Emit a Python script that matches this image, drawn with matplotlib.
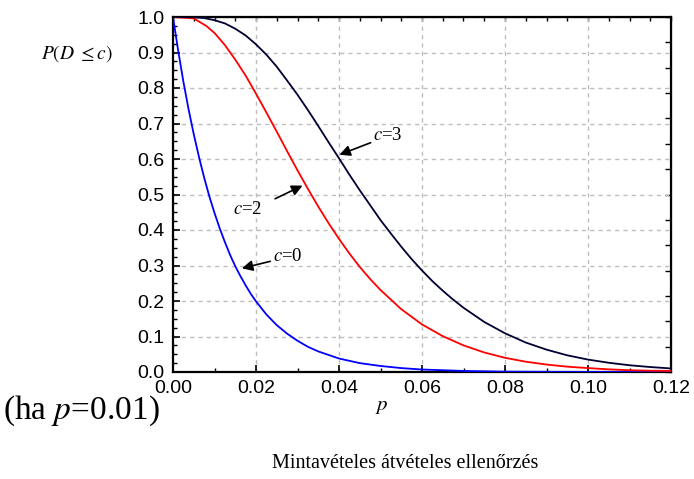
import matplotlib
matplotlib.use("Agg")
import matplotlib.pyplot as plt
from matplotlib.ticker import MultipleLocator, NullFormatter

plt.rcParams['mathtext.fontset'] = 'stix'
plt.rcParams['font.family'] = ['Liberation Sans', 'DejaVu Sans']

# values
p_c0 = [0, 0.00125, 0.0025, 0.00375, 0.005, 0.00625, 0.0075, 0.00875, 0.01, 0.01125,
        0.0125, 0.01375, 0.015, 0.01625, 0.0175, 0.01875, 0.02, 0.0225, 0.025, 0.0275,
        0.03, 0.0325, 0.035, 0.04, 0.045, 0.05, 0.055, 0.06, 0.065, 0.07, 0.08, 0.09,
        0.10, 0.12]
P_c0 = [1.0, 0.905, 0.818, 0.740, 0.670, 0.606, 0.548, 0.495, 0.448, 0.405,
        0.366, 0.330, 0.298, 0.270, 0.244, 0.220, 0.199, 0.162, 0.132, 0.108,
        0.088, 0.071, 0.058, 0.038, 0.025, 0.017, 0.011, 0.007, 0.005, 0.003, 0.001, 0.0005,
        0.0002, 0.0]

p_c2 = [0, 0.005, 0.008, 0.010, 0.0125, 0.015, 0.0175, 0.020, 0.0225, 0.025, 0.0275,
        0.030, 0.0325, 0.035, 0.0375, 0.040, 0.0425, 0.045, 0.0475, 0.050, 0.055, 0.060,
        0.065, 0.070, 0.075, 0.080, 0.085, 0.090, 0.095, 0.100, 0.105, 0.110, 0.115, 0.120]
P_c2 = [1.0, 0.996, 0.975, 0.955, 0.921, 0.880, 0.835, 0.784, 0.731, 0.677, 0.622,
        0.568, 0.516, 0.466, 0.419, 0.375, 0.334, 0.296, 0.262, 0.231, 0.177, 0.134,
        0.101, 0.075, 0.055, 0.040, 0.029, 0.021, 0.015, 0.011, 0.0075, 0.005, 0.0037, 0.003]

p_c3 = [0, 0.0025, 0.005, 0.0075, 0.010, 0.0125, 0.015, 0.0175, 0.020, 0.0225, 0.025,
        0.0275, 0.030, 0.0325, 0.035, 0.0375, 0.040, 0.0425, 0.045, 0.0475, 0.050,
        0.0525, 0.055, 0.0575, 0.060, 0.0625, 0.065, 0.0675, 0.070, 0.075, 0.080,
        0.085, 0.090, 0.095, 0.100, 0.105, 0.110, 0.115, 0.120]
P_c3 = [1.0, 1.0, 0.999, 0.997, 0.991, 0.982, 0.967, 0.948, 0.923, 0.894, 0.860,
        0.821, 0.781, 0.738, 0.693, 0.647, 0.602, 0.556, 0.512, 0.470, 0.428,
        0.390, 0.353, 0.318, 0.286, 0.256, 0.229, 0.204, 0.181, 0.141, 0.109,
        0.083, 0.063, 0.047, 0.035, 0.026, 0.019, 0.014, 0.010]

x_ticks = [0.00, 0.02, 0.04, 0.06, 0.08, 0.10, 0.12]
y_ticks = [0.0, 0.1, 0.2, 0.3, 0.4, 0.5, 0.6, 0.7, 0.8, 0.9, 1.0]

fig = plt.figure(figsize=(6.94, 4.79), dpi=100)
ax = fig.add_axes([173/694, 107/479, 498/694, 355/479])

ax.plot(p_c0, P_c0, color='#0000ff', lw=1.3, zorder=3)
ax.plot(p_c2, P_c2, color='#ff0000', lw=1.3, zorder=3)
ax.plot(p_c3, P_c3, color='#000033', lw=1.3, zorder=3)

ax.set_xlim(0, 0.12)
ax.set_ylim(0, 1.0)
ax.set_xticks(x_ticks)
ax.set_xticklabels([f"{v:.2f}" for v in x_ticks])
ax.set_yticks(y_ticks)
ax.set_yticklabels([f"{v:.1f}" for v in y_ticks])
ax.xaxis.set_minor_locator(MultipleLocator(0.01))
ax.yaxis.set_minor_locator(MultipleLocator(0.025))
ax.tick_params(which='major', direction='in', length=5, width=1.2, labelsize=14, pad=6)
ax.tick_params(which='minor', direction='in', length=3, width=1.0)
ax.grid(True, which='major', color='#bdbdbd', ls=(0, (3, 3)), lw=1.0)
for s in ax.spines.values():
    s.set_linewidth(1.6)

secx = ax.secondary_xaxis('top')
secx.xaxis.set_major_locator(MultipleLocator(0.005))
secx.xaxis.set_major_formatter(NullFormatter())
secx.tick_params(direction='in', length=3, width=1.0)
secy = ax.secondary_yaxis('right')
secy.yaxis.set_major_locator(MultipleLocator(1/14))
secy.yaxis.set_major_formatter(NullFormatter())
secy.tick_params(direction='in', length=4, width=1.0)

arrow = dict(arrowstyle='-|>', color='black', lw=1.2, mutation_scale=16, shrinkA=0, shrinkB=0)
tfont = dict(family='Liberation Serif', fontsize=13.5)
ax.annotate(r'$c$=3', xy=(0.0401, 0.612), xytext=(0.0483, 0.665), va='center', ha='left',
            arrowprops=arrow, **tfont)
ax.annotate('', xy=(0.0312, 0.525), xytext=(0.0246, 0.488), arrowprops=arrow)
ax.text(0.0144, 0.457, r'$c$=2', va='center', ha='left', **tfont)
ax.annotate(r'$c$=0', xy=(0.0166, 0.292), xytext=(0.0241, 0.324), va='center', ha='left',
            arrowprops=arrow, **tfont)

fig.text(77/694, 1 - 54/479, r'$P(D\;\leq c)$', ha='center', va='center', fontsize=14)
fig.text(382/694, 1 - 407/479, r'$p$', ha='center', va='center', fontsize=15)
fig.text(3/694, 1 - 411/479, r'(ha $p$=0.01)', ha='left', va='center',
         family='Liberation Serif', fontsize=24)
fig.text(405/694, 1 - 463/479, 'Mintavételes átvételes ellenőrzés', ha='center', va='center',
         family='Liberation Serif', fontsize=14.5)

fig.savefig('out.png', dpi=100)
